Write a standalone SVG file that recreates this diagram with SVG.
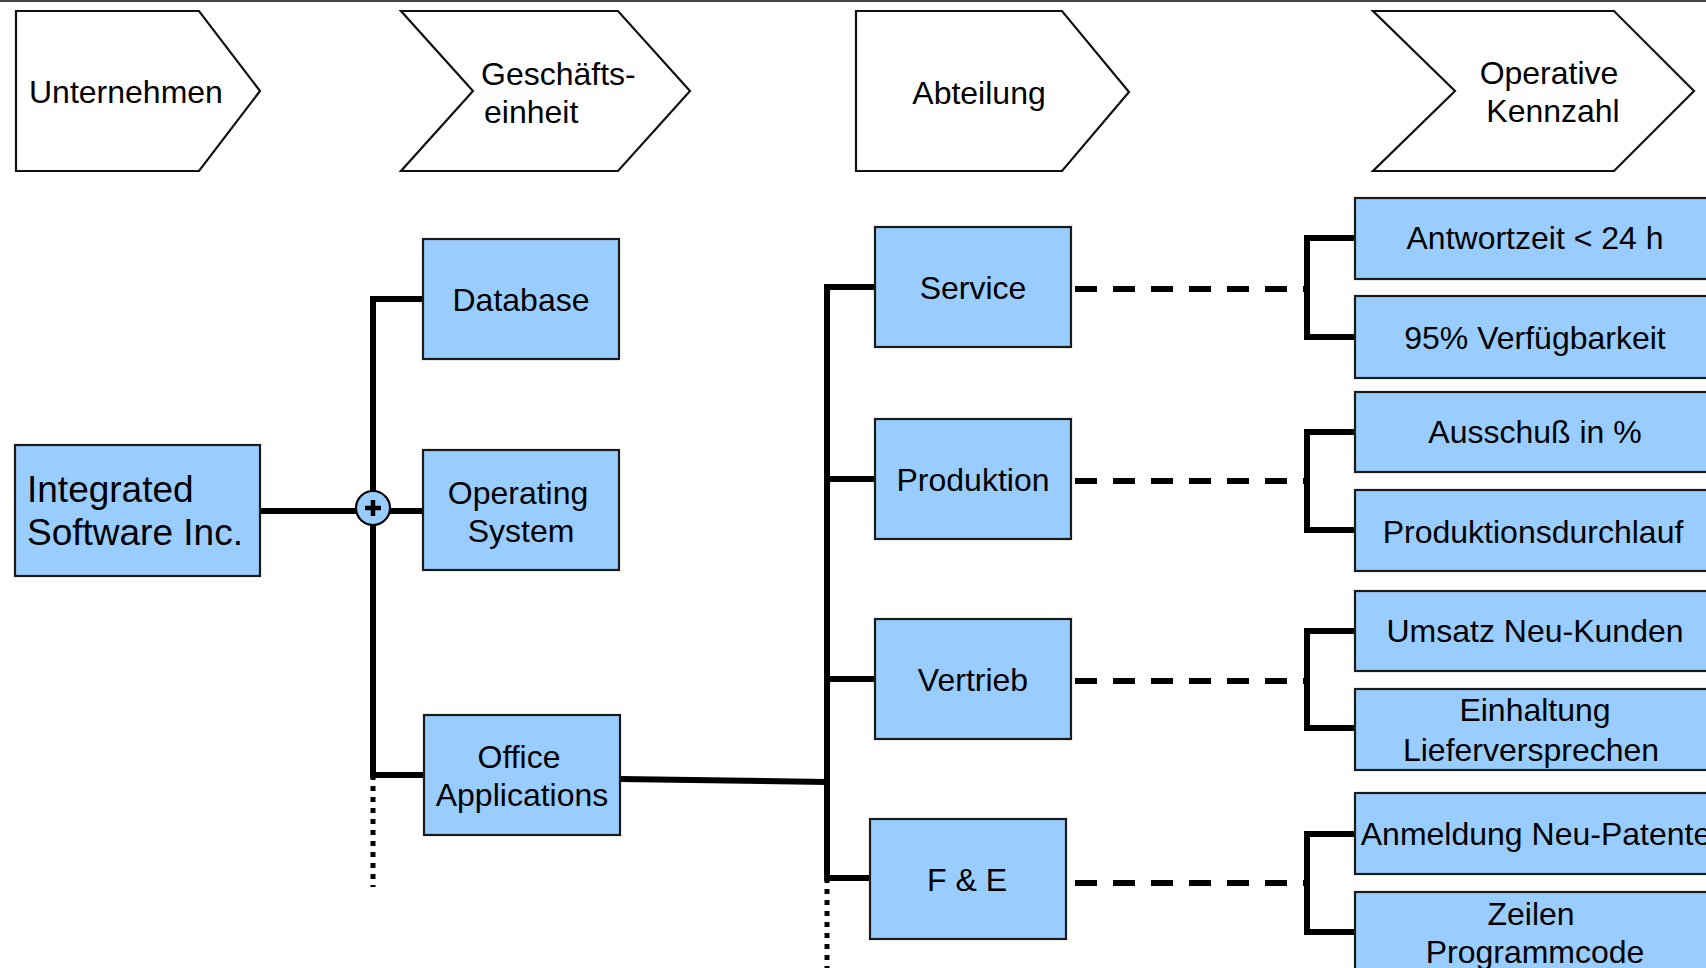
<svg xmlns="http://www.w3.org/2000/svg" width="1706" height="968" viewBox="0 0 1706 968">
  <style>
    text { font-family: "Liberation Sans", Arial, sans-serif; fill: #000; }
    .lbl { font-size: 32px; }
    .big { font-size: 37px; }
    .mid { text-anchor: middle; }
    .chev { fill: #fff; stroke: #111; stroke-width: 2.2; stroke-linejoin: miter; }
    .box { fill: #99ccff; stroke: #1a1a1a; stroke-width: 2.2; }
    .wire { fill: none; stroke: #000; stroke-width: 6; stroke-linecap: butt; stroke-linejoin: miter; }
    .dash { fill: none; stroke: #000; stroke-width: 6; stroke-dasharray: 22 16; }
    .dots { fill: none; stroke: #000; stroke-width: 5; stroke-dasharray: 5 6; }
  </style>

  <rect x="0" y="0" width="1706" height="2" fill="#444"/>

  <!-- level headers -->
  <g id="hdr-unternehmen">
    <polygon class="chev" points="16,11 199,11 260,91 199,171 16,171"/>
    <text class="lbl" x="29" y="103">Unternehmen</text>
  </g>
  <g id="hdr-geschaeftseinheit">
    <polygon class="chev" points="401,11 618,11 690,91 618,171 401,171 473,91"/>
    <text class="lbl" x="481" y="85">Geschäfts-</text>
    <text class="lbl" x="484" y="123">einheit</text>
  </g>
  <g id="hdr-abteilung">
    <polygon class="chev" points="856,11 1062,11 1129,92 1062,171 856,171"/>
    <text class="lbl mid" x="979" y="104">Abteilung</text>
  </g>
  <g id="hdr-kennzahl">
    <polygon class="chev" points="1373,11 1614,11 1694,91 1614,171 1373,171 1455,91"/>
    <text class="lbl mid" x="1549" y="84">Operative</text>
    <text class="lbl mid" x="1553" y="122">Kennzahl</text>
  </g>

  <!-- connectors -->
  <g id="connectors">
    <line class="wire" x1="260" y1="511" x2="373" y2="511"/>
    <polyline class="wire" points="423,299 373,299 373,775 424,775"/>
    <line class="wire" x1="373" y1="511" x2="423" y2="511"/>
    <line class="dots" x1="373" y1="775" x2="373" y2="887"/>
    <line class="wire" x1="620" y1="779" x2="827" y2="782"/>
    <polyline class="wire" points="875,287 827,287 827,878 870,878"/>
    <line class="wire" x1="827" y1="479" x2="875" y2="479"/>
    <line class="wire" x1="827" y1="679" x2="875" y2="679"/>
    <line class="dots" x1="827" y1="878" x2="827" y2="968"/>

    <line class="dash" x1="1075" y1="289" x2="1305" y2="289"/>
    <line class="dash" x1="1075" y1="481" x2="1305" y2="481"/>
    <line class="dash" x1="1075" y1="681" x2="1305" y2="681"/>
    <line class="dash" x1="1075" y1="883" x2="1305" y2="883"/>

    <polyline class="wire" points="1355,238 1307,238 1307,337 1355,337"/>
    <polyline class="wire" points="1355,432 1307,432 1307,530 1355,530"/>
    <polyline class="wire" points="1355,631 1307,631 1307,728 1355,728"/>
    <polyline class="wire" points="1355,834 1307,834 1307,932 1355,932"/>
  </g>

  <g id="join">
    <circle cx="373" cy="508" r="17" fill="#99ccff" stroke="#000" stroke-width="2.2"/>
    <path d="M365,508 H381 M373,500 V516" stroke="#000" stroke-width="4.5"/>
  </g>

  <!-- company -->
  <g id="n-company">
    <rect class="box" x="15" y="445" width="245" height="131"/>
    <text class="big" x="27" y="502">Integrated</text>
    <text class="big" x="27" y="545">Software Inc.</text>
  </g>

  <!-- business units -->
  <g id="n-database">
    <rect class="box" x="423" y="239" width="196" height="120"/>
    <text class="lbl mid" x="521" y="311">Database</text>
  </g>
  <g id="n-os">
    <rect class="box" x="423" y="450" width="196" height="120"/>
    <text class="lbl mid" x="518" y="504">Operating</text>
    <text class="lbl mid" x="521" y="542">System</text>
  </g>
  <g id="n-office">
    <rect class="box" x="424" y="715" width="196" height="120"/>
    <text class="lbl mid" x="519" y="768">Office</text>
    <text class="lbl mid" x="522" y="806">Applications</text>
  </g>

  <!-- departments -->
  <g id="n-service">
    <rect class="box" x="875" y="227" width="196" height="120"/>
    <text class="lbl mid" x="973" y="299">Service</text>
  </g>
  <g id="n-produktion">
    <rect class="box" x="875" y="419" width="196" height="120"/>
    <text class="lbl mid" x="973" y="491">Produktion</text>
  </g>
  <g id="n-vertrieb">
    <rect class="box" x="875" y="619" width="196" height="120"/>
    <text class="lbl mid" x="973" y="691">Vertrieb</text>
  </g>
  <g id="n-fe">
    <rect class="box" x="870" y="819" width="196" height="120"/>
    <text class="lbl mid" x="967" y="891">F &amp; E</text>
  </g>

  <!-- operative figures -->
  <g id="k-antwortzeit">
    <rect class="box" x="1355" y="198" width="370" height="81"/>
    <text class="lbl mid" x="1535" y="249">Antwortzeit &lt; 24 h</text>
  </g>
  <g id="k-verfuegbarkeit">
    <rect class="box" x="1355" y="296" width="370" height="82"/>
    <text class="lbl mid" x="1535" y="349">95% Verfügbarkeit</text>
  </g>
  <g id="k-ausschuss">
    <rect class="box" x="1355" y="392" width="370" height="80"/>
    <text class="lbl mid" x="1535" y="443">Ausschuß in %</text>
  </g>
  <g id="k-durchlauf">
    <rect class="box" x="1355" y="490" width="370" height="81"/>
    <text class="lbl mid" x="1533" y="543">Produktionsdurchlauf</text>
  </g>
  <g id="k-umsatz">
    <rect class="box" x="1355" y="591" width="370" height="80"/>
    <text class="lbl mid" x="1535" y="642">Umsatz Neu-Kunden</text>
  </g>
  <g id="k-liefer">
    <rect class="box" x="1355" y="689" width="370" height="81"/>
    <text class="lbl mid" x="1535" y="721">Einhaltung</text>
    <text class="lbl mid" x="1531" y="761">Lieferversprechen</text>
  </g>
  <g id="k-patente">
    <rect class="box" x="1355" y="793" width="370" height="81"/>
    <text class="lbl mid" x="1536" y="845">Anmeldung Neu-Patente</text>
  </g>
  <g id="k-zeilen">
    <rect class="box" x="1355" y="892" width="370" height="90"/>
    <text class="lbl mid" x="1531" y="925">Zeilen</text>
    <text class="lbl mid" x="1535" y="963">Programmcode</text>
  </g>
</svg>
